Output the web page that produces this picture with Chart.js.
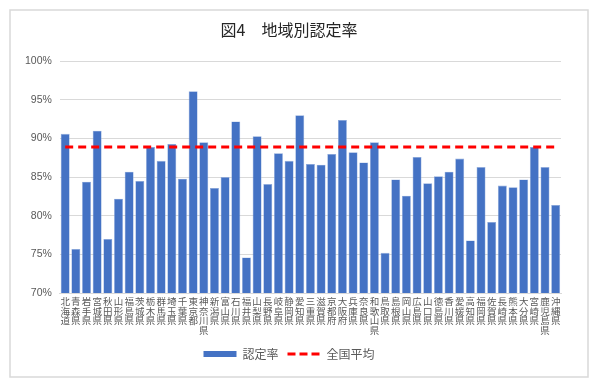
<!DOCTYPE html>
<html>
<head>
<meta charset="utf-8">
<script src="https://cdn.jsdelivr.net/npm/chart.js@4"></script>
<style>
html,body{margin:0;padding:0;background:#fff;}
#wrap{position:relative;width:600px;height:380px;}
</style>
</head>
<body>
<div id="wrap"><canvas id="c" width="600" height="380"></canvas></div>
<script>
const categories = ["北海道","青森県","岩手県","宮城県","秋田県","山形県","福島県","茨城県","栃木県","群馬県","埼玉県","千葉県","東京都","神奈川県","新潟県","富山県","石川県","福井県","山梨県","長野県","岐阜県","静岡県","愛知県","三重県","滋賀県","京都府","大阪府","兵庫県","奈良県","和歌山県","鳥取県","島根県","岡山県","広島県","山口県","徳島県","香川県","愛媛県","高知県","福岡県","佐賀県","長崎県","熊本県","大分県","宮崎県","鹿児島県","沖縄県"];
const rates = [90.6,75.7,84.4,91.0,77.0,82.2,85.7,84.5,88.9,87.1,89.3,84.8,96.1,89.5,83.6,85.0,92.2,74.6,90.3,84.1,88.1,87.1,93.0,86.7,86.6,88.0,92.4,88.2,86.9,89.5,75.2,84.7,82.6,87.6,84.2,85.1,85.7,87.4,76.8,86.3,79.2,83.9,83.7,84.7,88.9,86.3,81.4];
const nationalAverage = 88.9;
const averageSeries = categories.map(() => nationalAverage);
const yTicks = [70,75,80,85,90,95,100];
const seriesNames = ["認定率","全国平均"];
const titleText = "図4　地域別認定率";

const framePlugin = {
  id: 'frame',
  beforeDraw(chart) {
    const ctx = chart.ctx;
    ctx.save();
    ctx.fillStyle = '#fff';
    ctx.fillRect(0, 0, chart.width, chart.height);
    ctx.strokeStyle = '#d9d9d9';
    ctx.lineWidth = 1.5;
    ctx.strokeRect(10, 10, 578, 367);
    ctx.restore();
  }
};

new Chart(document.getElementById('c'), {
  data: {
    labels: categories.map(s => s.split('')),
    datasets: [
      {
        type: 'line',
        label: seriesNames[1],
        data: averageSeries,
        borderColor: '#ff0000',
        borderWidth: 3,
        borderDash: [8, 5],
        pointRadius: 0,
        fill: false,
        order: 0
      },
      {
        type: 'bar',
        label: seriesNames[0],
        data: rates,
        backgroundColor: '#4472c4',
        borderColor: '#8eaadb',
        borderWidth: 0.6,
        barPercentage: 0.84,
        categoryPercentage: 1.0,
        order: 1
      }
    ]
  },
  options: {
    responsive: false,
    animation: false,
    layout: { padding: { left: 17, right: 39, top: 16, bottom: 14 } },
    plugins: {
      title: {
        display: true,
        text: titleText,
        color: '#262626',
        font: { family: '"Noto Sans CJK JP"', size: 16, weight: 'normal' },
        padding: { top: 4, bottom: 22 }
      },
      legend: {
        position: 'bottom',
        reverse: true,
        maxHeight: 27,
        labels: {
          usePointStyle: true,
          pointStyleWidth: 33,
          boxHeight: 6,
          padding: 9,
          color: '#595959',
          font: { family: '"Noto Sans CJK JP"', size: 12 },
          generateLabels(chart) {
            const items = Chart.defaults.plugins.legend.labels.generateLabels(chart);
            items.forEach(it => {
              if (it.datasetIndex === 0) {
                it.pointStyle = 'line';
                it.lineWidth = 3;
                it.lineDash = [8, 4];
                it.strokeStyle = '#ff0000';
              } else {
                it.pointStyle = 'rect';
                it.lineWidth = 0;
                it.fillStyle = '#4472c4';
              }
            });
            return items;
          }
        }
      },
      tooltip: { enabled: false }
    },
    scales: {
      x: {
        grid: { display: false, drawTicks: false },
        border: { color: '#d9d9d9' },
        ticks: {
          autoSkip: false,
          maxRotation: 0,
          minRotation: 0,
          padding: 4,
          color: '#595959',
          font: { family: '"Noto Sans CJK JP"', size: 9.5, lineHeight: 1.0 }
        }
      },
      y: {
        min: 70,
        max: 100,
        afterBuildTicks(axis) { axis.ticks = yTicks.map(v => ({ value: v })); },
        grid: { color: '#d9d9d9', drawTicks: false },
        border: { display: false },
        ticks: {
          padding: 8,
          color: '#595959',
          font: { family: '"Liberation Sans"', size: 10.5 },
          callback: v => v + '%'
        }
      }
    }
  },
  plugins: [framePlugin]
});
</script>
</body>
</html>
